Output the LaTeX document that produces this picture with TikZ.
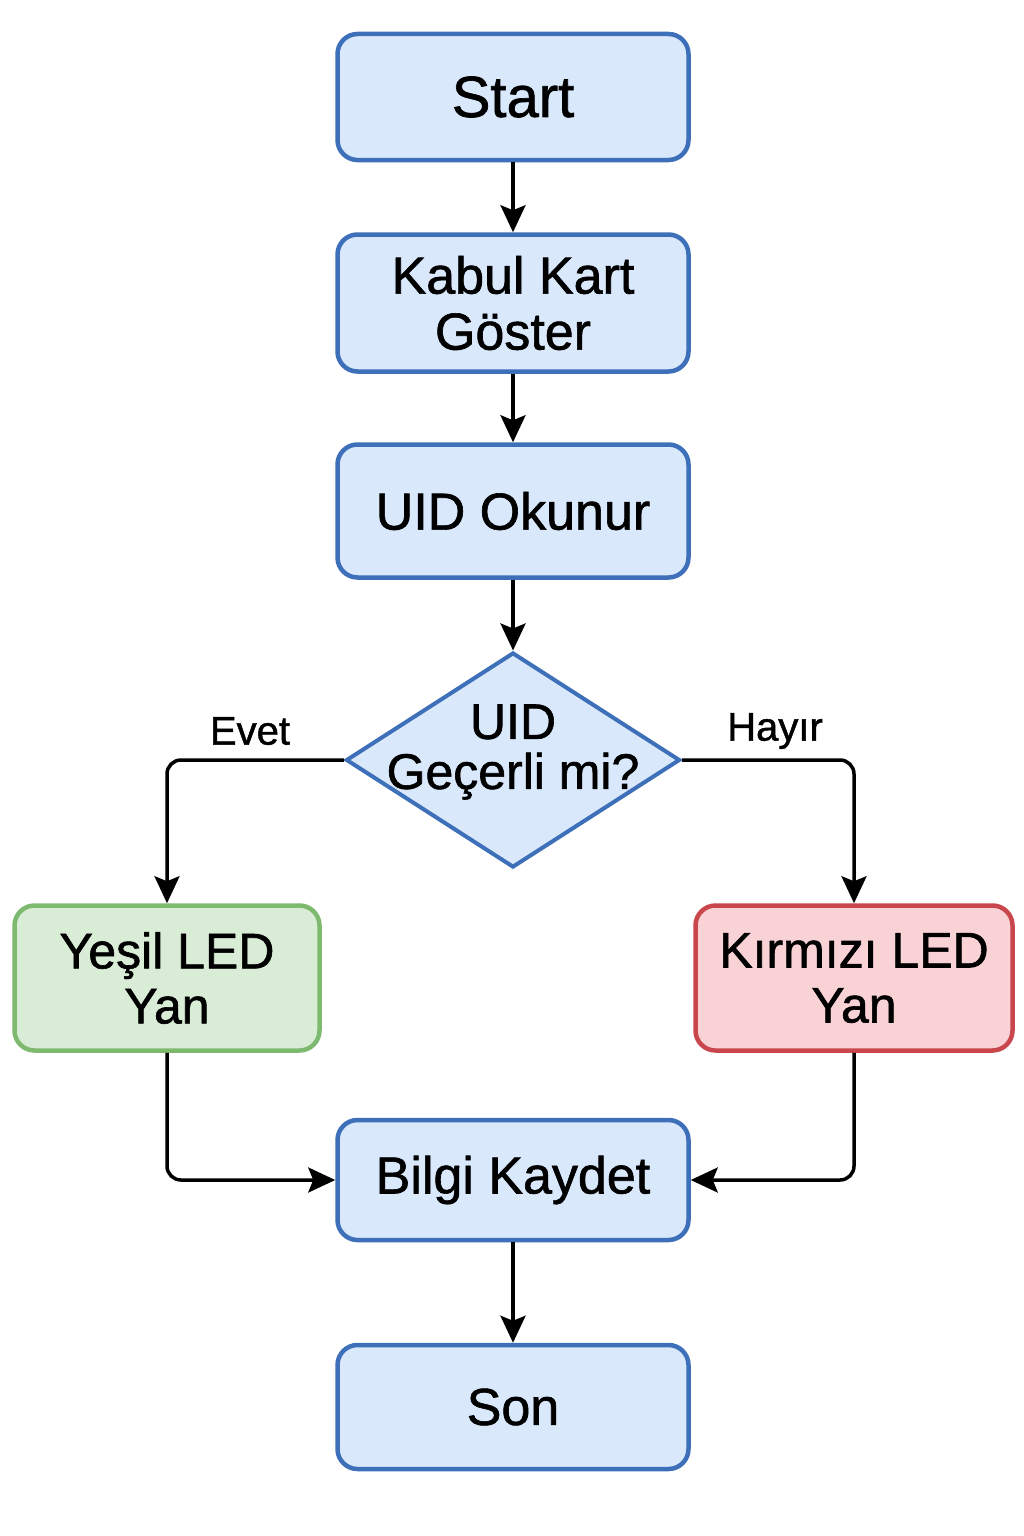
\documentclass[tikz,border=0pt]{standalone}
\usepackage{fontspec}
\setmainfont[FakeBold=1.2,AutoFakeBold=1.2]{Liberation Sans}
\usetikzlibrary{positioning,shapes.geometric,arrows.meta}
\tikzset{>={Stealth[length=27pt,width=25pt,inset=5pt]}}
\definecolor{bfill}{HTML}{DAE8FC}
\definecolor{bline}{HTML}{3D70B8}
\definecolor{gfill}{HTML}{D9EDD6}
\definecolor{gline}{HTML}{7DB96F}
\definecolor{rfill}{HTML}{F9D2D5}
\definecolor{rline}{HTML}{C8464C}
\newcommand*{\fs}[2]{\fontsize{#1}{#2}\selectfont\bfseries}

\begin{document}
\begin{tikzpicture}[x=1pt,y=-1pt,
  box/.style={draw=bline,fill=bfill,line width=4.5pt,rounded corners=20pt,
    minimum width=351pt,minimum height=126pt,align=center,font=\fs{52}{56}},
  ledbox/.style={box,minimum width=305pt,minimum height=145pt,font=\fs{50}{55}},
  decision/.style={diamond,draw=bline,fill=bfill,line width=4pt,inner sep=0pt,
    minimum width=334pt,minimum height=215pt},
  flow/.style={->,line width=3.5pt},
  lbl/.style={font=\fs{40}{44}}]
\useasboundingbox (0,0) rectangle (1024,1536);

\node[box,font=\fs{58}{62}] (start) at (513,97) {Start};
\node[box,minimum height=137pt] (kabul) at (513,303) {Kabul Kart\\Göster};
\node[box,minimum height=133pt] (uid) at (513,511) {UID Okunur};
\node[decision,label={[align=center,font=\fs{50}{50},yshift=8pt]center:UID\\Geçerli mi?}] (check) at (513,760) {};
\node[ledbox,draw=gline,fill=gfill] (yesil) at (167,978) {Yeşil LED\\Yan};
\node[ledbox,draw=rline,fill=rfill,minimum width=317pt] (kirmizi) at (854,978) {Kırmızı LED\\Yan};
\node[box,minimum height=120pt] (bilgi) at (513,1180) {Bilgi Kaydet};
\node[box,minimum height=124pt] (son) at (513,1407) {Son};

\node[lbl] (evet) at (250,731) {Evet};
\node[lbl] (hayir) at (775,731) {Hayır};

\draw[flow] (start) -- (kabul);
\draw[flow] (kabul) -- (uid);
\draw[flow] (uid) -- (check);
\draw[flow,rounded corners=14pt] (check.west) -| (yesil.north);
\draw[flow,rounded corners=14pt] (check.east) -| (kirmizi.north);
\draw[flow,rounded corners=14pt] (yesil.south) |- (bilgi.west);
\draw[flow,rounded corners=14pt] (kirmizi.south) |- (bilgi.east);
\draw[flow] (bilgi) -- (son);
\end{tikzpicture}
\end{document}
